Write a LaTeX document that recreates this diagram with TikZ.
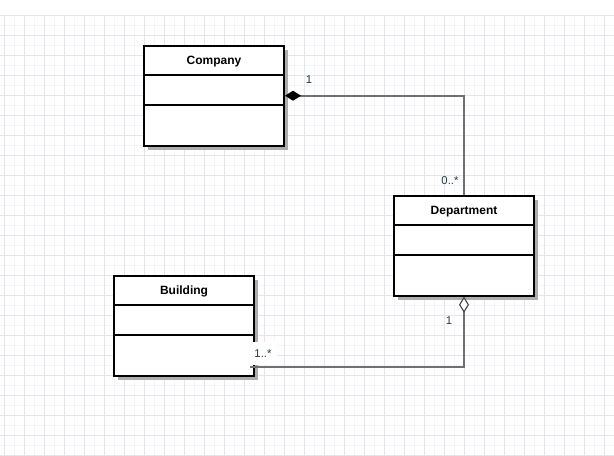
\documentclass[tikz,border=0pt]{standalone}
\usepackage{fontspec}
\setmainfont{Liberation Sans}
\usetikzlibrary{calc,arrows.meta,shadows}
\definecolor{gridmajor}{RGB}{229,229,242}
\definecolor{gridminor}{RGB}{244,244,251}
\definecolor{linkgray}{RGB}{112,112,112}
\definecolor{labelgray}{RGB}{35,58,58}
\tikzset{
    classbox/.style={draw, line width=1.5pt, fill=white, minimum width=105pt,
        minimum height=75pt, inner sep=0pt,
        drop shadow={shadow xshift=3pt, shadow yshift=-3pt, fill=black!32, opacity=1}},
    classname/.style={font=\bfseries\fontsize{9}{10}\selectfont, inner sep=0pt, anchor=base},
    mult/.style={font=\fontsize{8.5}{9}\selectfont, text=labelgray, inner sep=1pt},
    link/.style={draw=linkgray, line width=1.3pt},
}

\begin{document}
\begin{tikzpicture}[x=0.75pt, y=-0.75pt]
    \useasboundingbox (0,0) rectangle (614,455);
    % background grid
    \foreach \gx in {14,34,...,614} \draw[gridminor, line width=0.5pt] (\gx,15) -- (\gx,455);
    \foreach \gy in {25,45,...,455} \draw[gridminor, line width=0.5pt] (0,\gy) -- (614,\gy);
    \foreach \gx in {4,24,...,614} \draw[gridmajor, line width=0.6pt] (\gx,15) -- (\gx,455);
    \foreach \gy in {15,35,...,455} \draw[gridmajor, line width=0.6pt] (0,\gy) -- (614,\gy);

    % classes
    \node[classbox] (company) at (214,95.7) {};
    \node[classbox] (department) at (464,245.7) {};
    \node[classbox] (building) at (184,325.7) {};
    \foreach \cls in {company,department,building} {
        \draw[line width=1.5pt] ($(\cls.north west)+(0,30)$) -- ($(\cls.north east)+(0,30)$);
        \draw[line width=1.5pt] ($(\cls.north west)+(0,60)$) -- ($(\cls.north east)+(0,60)$);
    }
    \node[classname] (company-name) at ($(company.north)+(0,19.5)$) {Company};
    \node[classname] (department-name) at ($(department.north)+(0,19.5)$) {Department};
    \node[classname] (building-name) at ($(building.north)+(0,19.5)$) {Building};

    % multiplicities
    \node[mult] (company-one) at (309,80) {1};
    \node[mult] (department-many) at (450,181) {0..*};
    \node[mult] (department-one) at (449,321) {1};
    \node[mult, fill=white, minimum width=21pt, minimum height=17pt] (building-many) at (263,353.5) {1..*};

    % associations
    \coordinate (building-end) at ($(building.south east)+(-5,-10)$);
    \draw[link, {Diamond[length=12pt, width=7.5pt, color=black, fill=black]}-]
        (company.east) -- (company.east -| department.north) -- (department.north);
    \draw[link, {Diamond[length=12pt, width=7.5pt, color=black!75, fill=white, line width=0.8pt]}-]
        (department.south) -- (department.south |- building-end) -- (building-end);
\end{tikzpicture}
\end{document}
